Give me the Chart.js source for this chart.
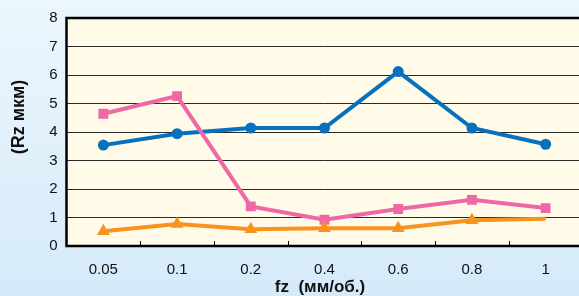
<!DOCTYPE html>
<html>
<head>
<meta charset="utf-8">
<script src="https://cdn.jsdelivr.net/npm/chart.js@4"></script>
<style>
  html, body { margin: 0; padding: 0; overflow: hidden; }
  body {
    width: 579px; height: 296px;
    background: linear-gradient(#ecf6fd, #d5eaf9);
  }
  canvas { display: block; }
</style>
</head>
<body>
<canvas id="grafico" width="590" height="296"></canvas>
<script>
const categorias = ['0.05', '0.1', '0.2', '0.4', '0.6', '0.8', '1'];
const serieAzul = [3.54, 3.94, 4.14, 4.14, 6.12, 4.14, 3.57];
const serieRosa = [4.64, 5.26, 1.39, 0.92, 1.30, 1.62, 1.33];
const serieLaranja = [0.52, 0.77, 0.59, 0.62, 0.62, 0.90, 0.96];
const ticksY = [0, 1, 2, 3, 4, 5, 6, 7, 8];
const tituloX = 'fz  (мм/об.)';
const tituloY = '(Rz мкм)';

// fundo creme da area do grafico + bordas + tracinhos internos do eixo x + titulos
const areaPlugin = {
    id: 'area',
    beforeDraw(chart) {
        const { ctx, chartArea: a } = chart;
        ctx.save();
        ctx.fillStyle = '#fffbe8';
        ctx.fillRect(a.left, a.top, a.right - a.left, a.bottom - a.top);
        ctx.restore();
    },
    afterDatasetsDraw(chart) {
        const { ctx, chartArea: a, scales } = chart;
        ctx.save();
        ctx.strokeStyle = '#000';
        ctx.lineWidth = 1;
        const x = scales.x;
        for (let i = 1; i < categorias.length; i++) {
            const px = Math.round((x.getPixelForValue(i - 1) + x.getPixelForValue(i)) / 2) + 0.5;
            ctx.beginPath();
            ctx.moveTo(px, a.bottom);
            ctx.lineTo(px, a.bottom - 5);
            ctx.stroke();
        }
        ctx.lineWidth = 2.5;
        ctx.strokeRect(a.left, a.top, a.right - a.left, a.bottom - a.top);
        ctx.restore();
    },
    afterDraw(chart) {
        const { ctx } = chart;
        ctx.save();
        ctx.fillStyle = '#111';
        ctx.font = 'bold 17px "Liberation Sans"';
        ctx.textAlign = 'center';
        ctx.textBaseline = 'alphabetic';
        ctx.fillText(tituloX, 320, 292);
        ctx.translate(19, 117);
        ctx.rotate(-Math.PI / 2);
        ctx.font = 'bold 18px "Liberation Sans"';
        ctx.textBaseline = 'middle';
        ctx.fillText(tituloY, 0, 0);
        ctx.restore();
    }
};

new Chart(document.getElementById('grafico'), {
    type: 'line',
    data: {
        labels: categorias,
        datasets: [
            {
                data: serieLaranja,
                borderColor: '#f7941d',
                backgroundColor: '#f7941d',
                borderWidth: 4,
                pointStyle: 'triangle',
                pointBorderWidth: 0,
                pointRadius: [7.5, 7.5, 7.5, 7.5, 7.5, 7.5, 0],
                tension: 0
            },
            {
                data: serieRosa,
                borderColor: '#ef68a6',
                backgroundColor: '#ef68a6',
                borderWidth: 4,
                pointStyle: 'rect',
                pointBorderWidth: 0,
                pointRadius: 7,
                tension: 0
            },
            {
                data: serieAzul,
                borderColor: '#0871bd',
                backgroundColor: '#0871bd',
                borderWidth: 4,
                pointStyle: 'circle',
                pointBorderWidth: 0,
                pointRadius: 5.5,
                tension: 0
            }
        ]
    },
    options: {
        responsive: false,
        animation: false,
        layout: { padding: { top: 16, right: 6, left: 0, bottom: 0 } },
        plugins: {
            legend: { display: false },
            tooltip: { enabled: false }
        },
        scales: {
            x: {
                offset: true,
                grid: { display: false },
                border: { display: false },
                ticks: {
                    color: '#111',
                    padding: 7,
                    font: { family: 'Liberation Sans', size: 15 }
                },
                afterFit: s => { s.height = 50; }
            },
            y: {
                min: 0,
                max: 8,
                afterBuildTicks: s => { s.ticks = ticksY.map(v => ({ value: v })); },
                grid: { color: '#2a2a2a', lineWidth: 1, drawTicks: false },
                border: { display: false },
                ticks: {
                    color: '#111',
                    padding: 9,
                    font: { family: 'Liberation Sans', size: 15 }
                },
                afterFit: s => { s.width = 66.5; }
            }
        }
    },
    plugins: [areaPlugin]
});
</script>
</body>
</html>
